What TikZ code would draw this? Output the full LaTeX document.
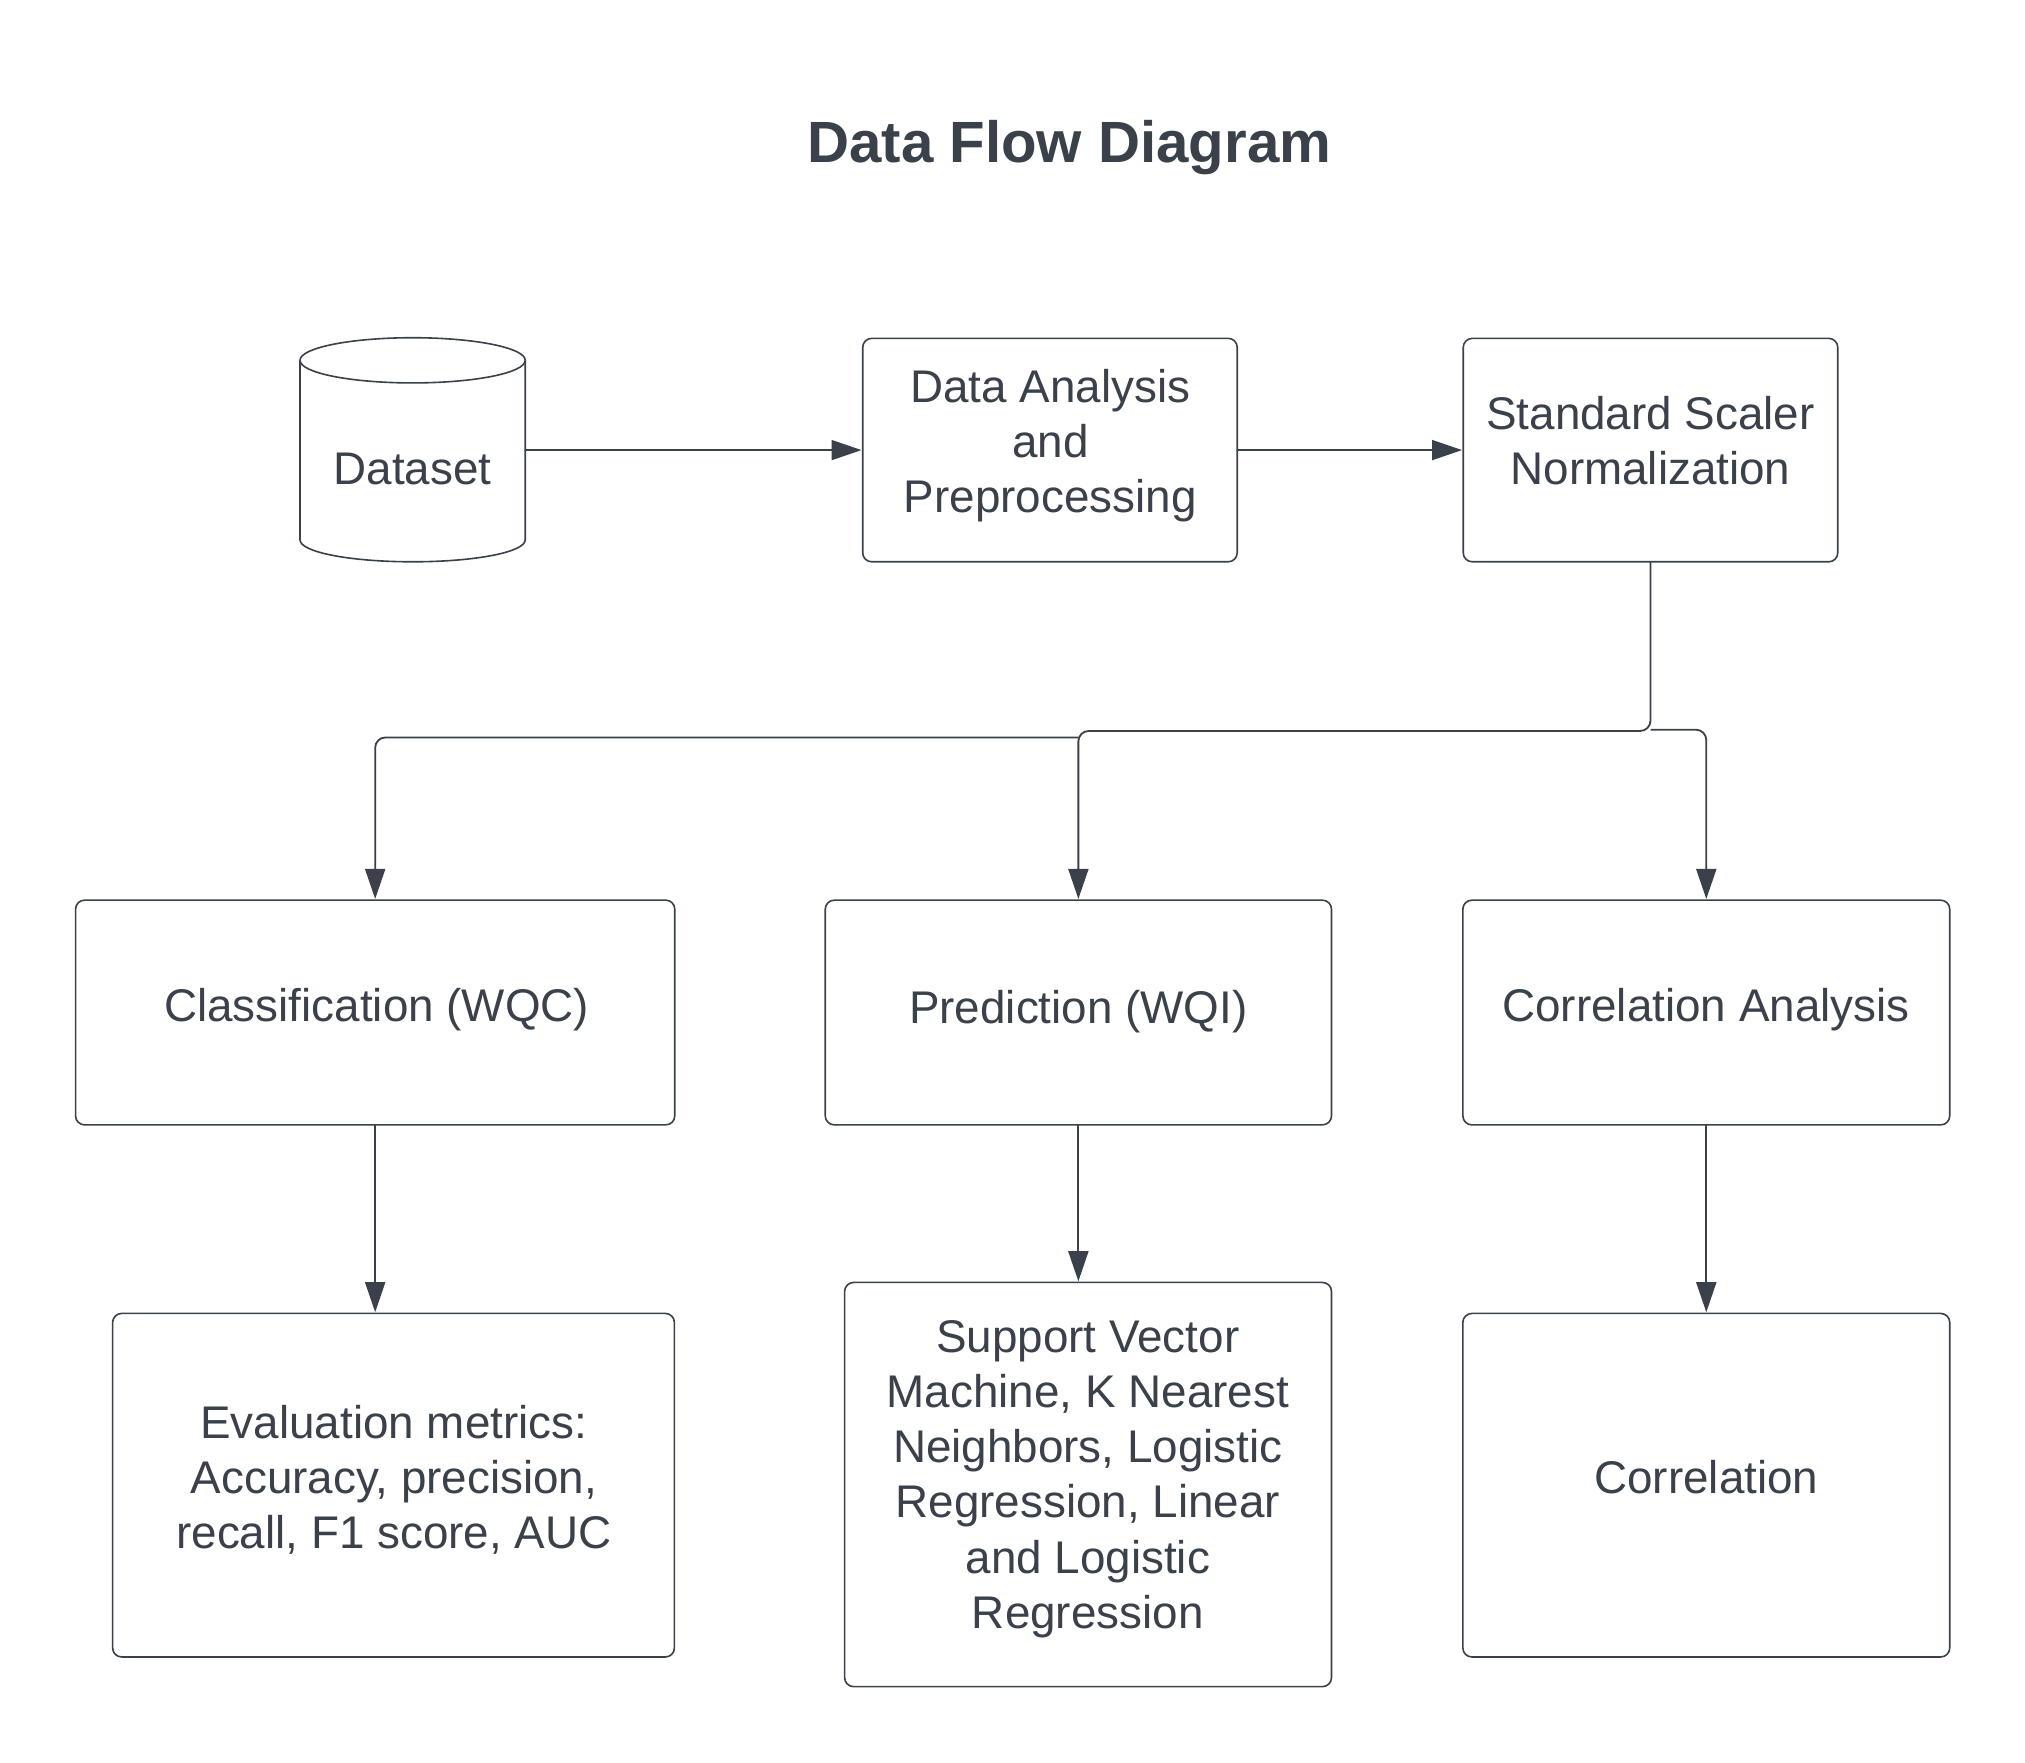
\documentclass[tikz,border=0pt]{standalone}
\usepackage{fontspec}
\setmainfont{Liberation Sans}
\usetikzlibrary{arrows.meta}
\definecolor{ink}{HTML}{3A414A}
\def\u{0.6457pt}
\tikzset{
  x=0.6457pt, y=-0.6457pt,
  body/.style={font=\fontsize{22.9}{27.5}\selectfont, text=ink, align=center, inner sep=0pt},
  boxnode/.style={draw=ink, line width=0.8pt, fill=white, rounded corners=7*\u, inner sep=0pt, outer sep=0pt},
  conn/.style={draw=ink, line width=0.9pt, rounded corners=8*\u, -{Triangle[length=15pt,width=10pt]}, shorten >=0.6pt},
}
\begin{document}
\begin{tikzpicture}
\useasboundingbox[fill=white] (0,0) rectangle (1568,1365.1);
\node[font=\fontsize{29.1}{35}\selectfont\bfseries, text=ink, inner sep=0pt] (title) at (828,114) {Data Flow Diagram};

% cylinder
\node[minimum width=175*\u, minimum height=173*\u, inner sep=0pt, outer sep=0pt] (ds) at (319.5,348.5) {};
\draw[draw=ink, line width=0.8pt, fill=white]
  (232.3,279) -- (232.3,418) .. controls (232.3,427.5) and (271,435) .. (319.5,435)
  .. controls (368,435) and (406.7,427.5) .. (406.7,418) -- (406.7,279);
\draw[draw=ink, line width=0.8pt, fill=white]
  (319.5,279) ellipse [x radius=87.2, y radius=17.5];
\node[body] (dst) at (319.5,363) {Dataset};

% boxes
\node[boxnode, minimum width=290*\u, minimum height=173*\u] (da) at (813,348.5) {};
\node[body] (dat) at (813.3,345) {Data Analysis\\and\\Preprocessing};
\node[boxnode, minimum width=290*\u, minimum height=173*\u] (sn) at (1278,348.5) {};
\node[body] (snt) at (1278,341.5) {Standard Scaler\\Normalization};

\node[boxnode, minimum width=464*\u, minimum height=174*\u] (cl) at (290.5,784) {};
\node[body] (clt) at (291.7,781.5) {Classification (WQC)};
\node[boxnode, minimum width=392*\u, minimum height=174*\u] (pr) at (835,784) {};
\node[body] (prt) at (835,783.5) {Prediction (WQI)};
\node[boxnode, minimum width=377*\u, minimum height=174*\u] (ca) at (1321.2,784) {};
\node[body] (cat) at (1321,781.5) {Correlation Analysis};

\node[boxnode, minimum width=435*\u, minimum height=266*\u] (ev) at (304.7,1150) {};
\node[body] (evt) at (305,1145.6) {Evaluation metrics:\\Accuracy, precision,\\recall, F1 score, AUC};
\node[boxnode, minimum width=377*\u, minimum height=313*\u] (sv) at (842.5,1149.5) {};
\node[body] (svt) at (842.3,1145.4) {Support Vector\\Machine, K Nearest\\Neighbors, Logistic\\Regression, Linear\\and Logistic\\Regression};
\node[boxnode, minimum width=377*\u, minimum height=266*\u] (co) at (1321.2,1150) {};
\node[body] (cot) at (1321.3,1144) {Correlation};

% junctions
\coordinate (j1) at (1278,566);
\coordinate (j2) at (835,571);
\coordinate (j3) at (1278,565);

% connectors
\draw[conn] (ds.east) -- (da.west);
\draw[conn] (da.east) -- (sn.west);
\draw[conn] (sn.south) -- (j1) -- (j1 -| pr.north) -- (pr.north);
\draw[conn] (j2) -- (j2 -| cl.north) -- (cl.north);
\draw[conn] (j3) -- (j3 -| ca.north) -- (ca.north);
\draw[conn] (cl.south) -- (cl.south |- ev.north);
\draw[conn] (pr.south) -- (pr.south |- sv.north);
\draw[conn] (ca.south) -- (co.north -| ca.south);
\end{tikzpicture}
\end{document}
